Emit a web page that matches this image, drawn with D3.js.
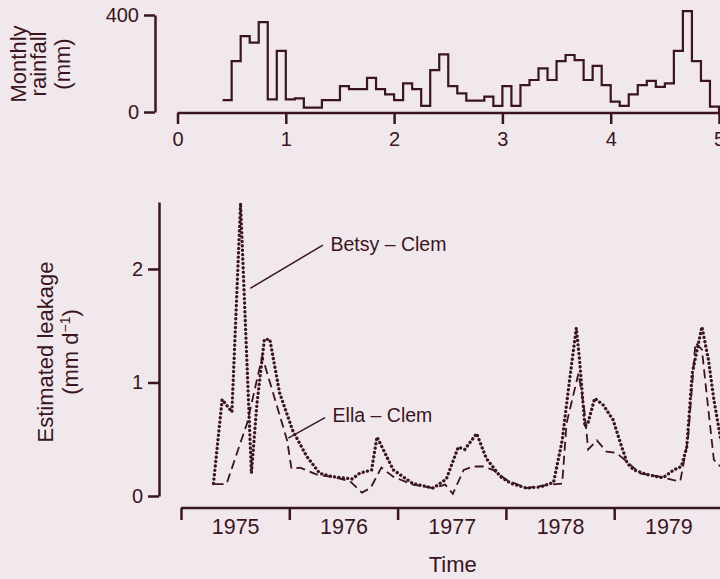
<!DOCTYPE html>
<meta charset="utf-8">
<style>
body {
  margin: 0;
  background: #f1e8ed;
}
svg {
  display: block;
  font-family: "Liberation Sans", Arial, sans-serif;
  fill: #3a1520;
}
.axis path, .axis line {
  stroke: #3a1520;
  stroke-width: 2.5;
}
.axis text {
  fill: #3a1520;
  font-family: "Liberation Sans", Arial, sans-serif;
  font-size: 20px;
}
.axis--year text {
  font-size: 21.5px;
}
.title {
  font-size: 22px;
  fill: #3a1520;
}
.note {
  font-size: 19.5px;
  fill: #3a1520;
}
</style>
<svg id="chart"></svg>
<script src="https://d3js.org/d3.v7.min.js"></script>
<script>

// monthly rainfall (mm), months counted from Jan 1975 (month 0)
let rainStart = 5;
let rainfall = [49, 210, 313, 286, 371, 52, 252,
  52, 56, 18, 18, 49, 49, 107, 94, 94, 141, 94, 73,
  49, 118, 94, 25, 173, 238, 107, 77, 47, 47, 63, 25,
  107, 25, 111, 132, 180, 132, 210, 235, 214, 132, 190, 111,
  43, 25, 73, 111, 128, 104, 118, 252, 416, 210, 128, 22];
let rainTicks = [0, 1, 2, 3, 4, 5];

// estimated leakage (mm/d), Betsy - Clem
let betsyYear = [1975.30, 1975.38, 1975.47, 1975.55, 1975.65, 1975.70, 1975.77, 1975.82,
  1975.91, 1976.03, 1976.16, 1976.28, 1976.40, 1976.58, 1976.65, 1976.76, 1976.81,
  1976.96, 1977.14, 1977.33, 1977.45, 1977.56, 1977.62, 1977.73, 1977.82, 1977.95,
  1978.05, 1978.19, 1978.32, 1978.44, 1978.52, 1978.58, 1978.65, 1978.68, 1978.73,
  1978.76, 1978.82, 1978.90, 1978.99, 1979.05, 1979.12, 1979.18, 1979.30, 1979.45,
  1979.55, 1979.62, 1979.67, 1979.72, 1979.81, 1979.87, 1979.92, 1979.98, 1980.04];
let betsy = [0.11, 0.85, 0.74, 2.58, 0.20, 0.80, 1.38, 1.38,
  0.91, 0.58, 0.35, 0.20, 0.17, 0.15, 0.20, 0.23, 0.52,
  0.23, 0.11, 0.07, 0.15, 0.43, 0.41, 0.55, 0.33, 0.17,
  0.11, 0.07, 0.08, 0.12, 0.49, 0.96, 1.48, 1.20, 0.61,
  0.65, 0.86, 0.80, 0.67, 0.49, 0.29, 0.23, 0.19, 0.16,
  0.23, 0.26, 0.43, 1.08, 1.49, 1.20, 0.85, 0.52, 0.30];

// estimated leakage (mm/d), Ella - Clem
let ellaYear = [1975.31, 1975.42, 1975.61, 1975.75, 1975.98, 1976.02, 1976.10, 1976.25,
  1976.44, 1976.56, 1976.67, 1976.75, 1976.85, 1976.96, 1977.14, 1977.33, 1977.44,
  1977.51, 1977.61, 1977.70, 1977.79, 1977.88, 1978.01, 1978.19, 1978.41, 1978.52,
  1978.56, 1978.67, 1978.72, 1978.76, 1978.84, 1978.93, 1979.02, 1979.12, 1979.24,
  1979.42, 1979.55, 1979.61, 1979.68, 1979.75, 1979.81, 1979.85, 1979.92, 1979.98];
let ella = [0.105, 0.105, 0.64, 1.23, 0.49, 0.24, 0.25, 0.19,
  0.16, 0.13, 0.03, 0.07, 0.25, 0.17, 0.10, 0.07, 0.10,
  0.02, 0.23, 0.26, 0.26, 0.23, 0.14, 0.07, 0.10, 0.11,
  0.64, 1.08, 0.79, 0.41, 0.49, 0.39, 0.38, 0.30, 0.20,
  0.17, 0.14, 0.13, 0.49, 1.35, 1.29, 0.93, 0.32, 0.26];

let years = [1975, 1976, 1977, 1978, 1979];
let leakTicks = [0, 1, 2];

let ink = "#3a1520";

let svg = d3.select("#chart")
  .attr("width", 720)
  .attr("height", 579);

// ---- top panel: rainfall ----
let xTop = d3.scaleLinear().domain([0, 5]).range([177.5, 719]);
let yTop = d3.scaleLinear().domain([0, 400]).range([112, 15]);

svg.append("g")
  .attr("class", "axis")
  .attr("transform", "translate(155,0)")
  .call(d3.axisLeft(yTop).tickValues([0, 400]).tickSize(11).tickSizeOuter(0).tickPadding(5));

svg.append("g")
  .attr("class", "axis")
  .attr("transform", "translate(0,113)")
  .call(d3.axisBottom(xTop).tickValues(rainTicks).tickFormat(d3.format("d"))
    .tickSize(11).tickSizeOuter(0).tickPadding(8))
  .select(".domain").attr("d", "M" + xTop(0) + ",0H720");

// step outline of the monthly bars
let steps = [];
rainfall.forEach(function(v, i) {
  let t0 = (rainStart + i) / 12, t1 = (rainStart + i + 1) / 12;
  steps.push([t0, v]);
  steps.push([t1, v]);
});
steps.push([steps[steps.length - 1][0], 0]);

svg.append("path")
  .datum(steps)
  .attr("fill", "none")
  .attr("stroke", ink)
  .attr("stroke-width", 2.2)
  .attr("d", d3.line().x(d => xTop(d[0])).y(d => yTop(d[1])));

let ty = svg.append("text")
  .attr("class", "title")
  .attr("text-anchor", "middle")
  .attr("transform", "translate(0,64) rotate(-90)");
ty.append("tspan").attr("x", 0).attr("y", 26).text("Monthly");
ty.append("tspan").attr("x", 0).attr("y", 46).text("rainfall");
ty.append("tspan").attr("x", 0).attr("y", 70).text("(mm)");

// ---- bottom panel: leakage ----
let xBot = d3.scaleLinear().domain([1975, 1980]).range([181, 722.5]);
let yBot = d3.scaleLinear().domain([0, 2.59]).range([496, 202]);

svg.append("g")
  .attr("class", "axis")
  .attr("transform", "translate(159,0)")
  .call(d3.axisLeft(yBot).tickValues(leakTicks).tickFormat(d3.format("d")).tickSize(11).tickSizeOuter(0).tickPadding(5));

svg.append("g")
  .attr("class", "axis")
  .attr("transform", "translate(0,508)")
  .call(d3.axisBottom(xBot).tickValues(years.concat([1980])).tickSize(12).tickSizeOuter(0).tickFormat(""))
  .select(".domain").attr("d", "M" + xBot(1975) + ",0H720");

svg.append("g")
  .attr("class", "axis axis--year")
  .attr("transform", "translate(0,508)")
  .call(d3.axisBottom(xBot).tickValues(years.map(y => y + 0.5)).tickSize(0).tickPadding(11)
    .tickFormat(d => String(Math.floor(d))))
  .select(".domain").remove();

let lineBot = d3.line().x(d => xBot(d[0])).y(d => yBot(d[1]));

svg.append("path")
  .datum(ellaYear.map((t, i) => [t, ella[i]]))
  .attr("fill", "none")
  .attr("stroke", ink)
  .attr("stroke-width", 1.8)
  .attr("stroke-dasharray", "9,5")
  .attr("d", lineBot);

svg.append("path")
  .datum(betsyYear.map((t, i) => [t, betsy[i]]))
  .attr("fill", "none")
  .attr("stroke", ink)
  .attr("stroke-width", 3.3)
  .attr("stroke-linecap", "round")
  .attr("stroke-dasharray", "0.1,4.3")
  .attr("d", lineBot);

// labels with leader lines
let notes = [
  {text: "Betsy \u2013 Clem", x: 1976.38, y: 2.16, from: [1976.31, 2.21], to: [1975.64, 1.83]},
  {text: "Ella \u2013 Clem", x: 1976.40, y: 0.65, from: [1976.33, 0.69], to: [1975.99, 0.51]}
];
notes.forEach(function(n) {
  svg.append("line")
    .attr("x1", xBot(n.from[0])).attr("y1", yBot(n.from[1]))
    .attr("x2", xBot(n.to[0])).attr("y2", yBot(n.to[1]))
    .attr("stroke", ink).attr("stroke-width", 1.5);
  svg.append("text")
    .attr("class", "note")
    .attr("x", xBot(n.x)).attr("y", yBot(n.y))
    .text(n.text);
});

let tl = svg.append("text")
  .attr("class", "title")
  .attr("text-anchor", "middle")
  .attr("transform", "translate(0,352) rotate(-90)");
tl.append("tspan").attr("x", 0).attr("y", 53).text("Estimated leakage");
let t2 = tl.append("tspan").attr("x", 0).attr("y", 78).text("(mm d");
t2.append("tspan").attr("dy", -8).attr("font-size", 14).text("\u22121");
t2.append("tspan").attr("dy", 8).text(")");

svg.append("text")
  .attr("class", "title")
  .attr("text-anchor", "middle")
  .attr("font-size", 22.5)
  .attr("x", xBot(1977.5) + 1)
  .attr("y", 572)
  .text("Time");

</script>
